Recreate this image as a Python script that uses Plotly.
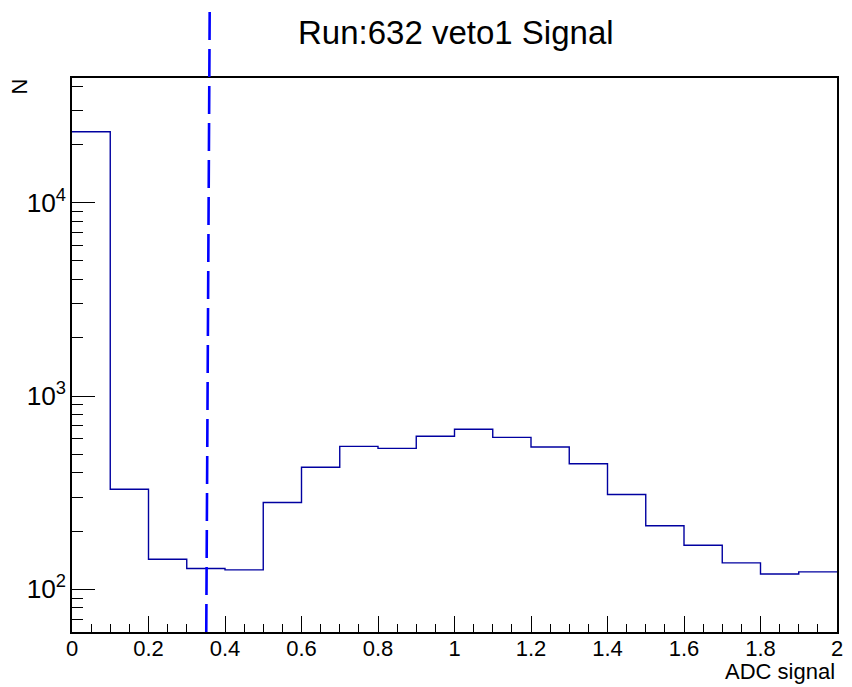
import numpy as np
import plotly.graph_objects as go

# Histogram data (ADC signal bins, width 0.1)
bin_edges = [0.0, 0.1, 0.2, 0.3, 0.4, 0.5, 0.6, 0.7, 0.8, 0.9, 1.0,
             1.1, 1.2, 1.3, 1.4, 1.5, 1.6, 1.7, 1.8, 1.9, 2.0]
counts = [23300, 329, 143, 128, 126, 281, 428, 549, 536, 619, 673,
          611, 545, 446, 309, 213, 169, 137, 120, 123]

cut_x = [0.351, 0.360]  # dashed cut line (bottom, top)

title_text = "Run:632 veto1 Signal"
x_title = "ADC signal"
y_title = "N"

FONT = "Liberation Sans, Arial, sans-serif"

step_x = bin_edges
step_y = counts + [counts[-1]]

fig = go.Figure()
fig.add_trace(go.Scatter(
    x=step_x, y=step_y, mode="lines", line_shape="hv",
    line=dict(color="#0000a0", width=1.4), showlegend=False, hoverinfo="skip"))

fig.add_shape(type="line", xref="x", yref="paper",
              x0=cut_x[0], x1=cut_x[1], y0=0, y1=1.127,
              line=dict(color="#0000ff", width=2.6, dash="28px,9px"))

fig.update_layout(
    width=852, height=687,
    margin=dict(l=72, r=9, t=78, b=55),
    paper_bgcolor="white", plot_bgcolor="white",
    font=dict(family=FONT, size=22, color="black"),
    showlegend=False,
)
fig.update_xaxes(
    range=[0, 2], showgrid=False, zeroline=False,
    showline=True, linecolor="black", linewidth=1.5, mirror=True,
    ticks="inside", ticklen=16, tickwidth=1, tickcolor="black",
    tick0=0, dtick=0.2, tickformat="~g", ticklabelstandoff=-4,
    minor=dict(ticks="inside", ticklen=8, dtick=0.05, tickcolor="black", tickwidth=1),
    tickfont=dict(size=22, family=FONT),
)
fig.update_yaxes(
    type="log", range=[np.log10(60.1), np.log10(44200)],
    showgrid=False, zeroline=False,
    showline=True, linecolor="black", linewidth=1.5, mirror=True,
    ticks="inside", ticklen=23, tickwidth=1, tickcolor="black",
    dtick=1, exponentformat="power", showexponent="all",
    minor=dict(ticks="inside", ticklen=11, dtick="D1", tickcolor="black", tickwidth=1),
    tickfont=dict(size=21, family=FONT),
)

fig.add_annotation(text=title_text, xref="paper", yref="paper",
                   x=(459 - 72) / 771, y=(632 - 33) / 554, xanchor="center", yanchor="middle",
                   showarrow=False, font=dict(size=33, family=FONT))
fig.add_annotation(text=x_title, xref="paper", yref="paper",
                   x=1.0, y=(632 - 671) / 554, xanchor="right", yanchor="middle",
                   showarrow=False, font=dict(size=22, family=FONT))
fig.add_annotation(text=y_title, xref="paper", yref="paper",
                   x=(20 - 72) / 771, y=(632 - 86) / 554, xanchor="center", yanchor="middle",
                   textangle=-90, showarrow=False, font=dict(size=22, family=FONT))

fig.write_html("out.html")
